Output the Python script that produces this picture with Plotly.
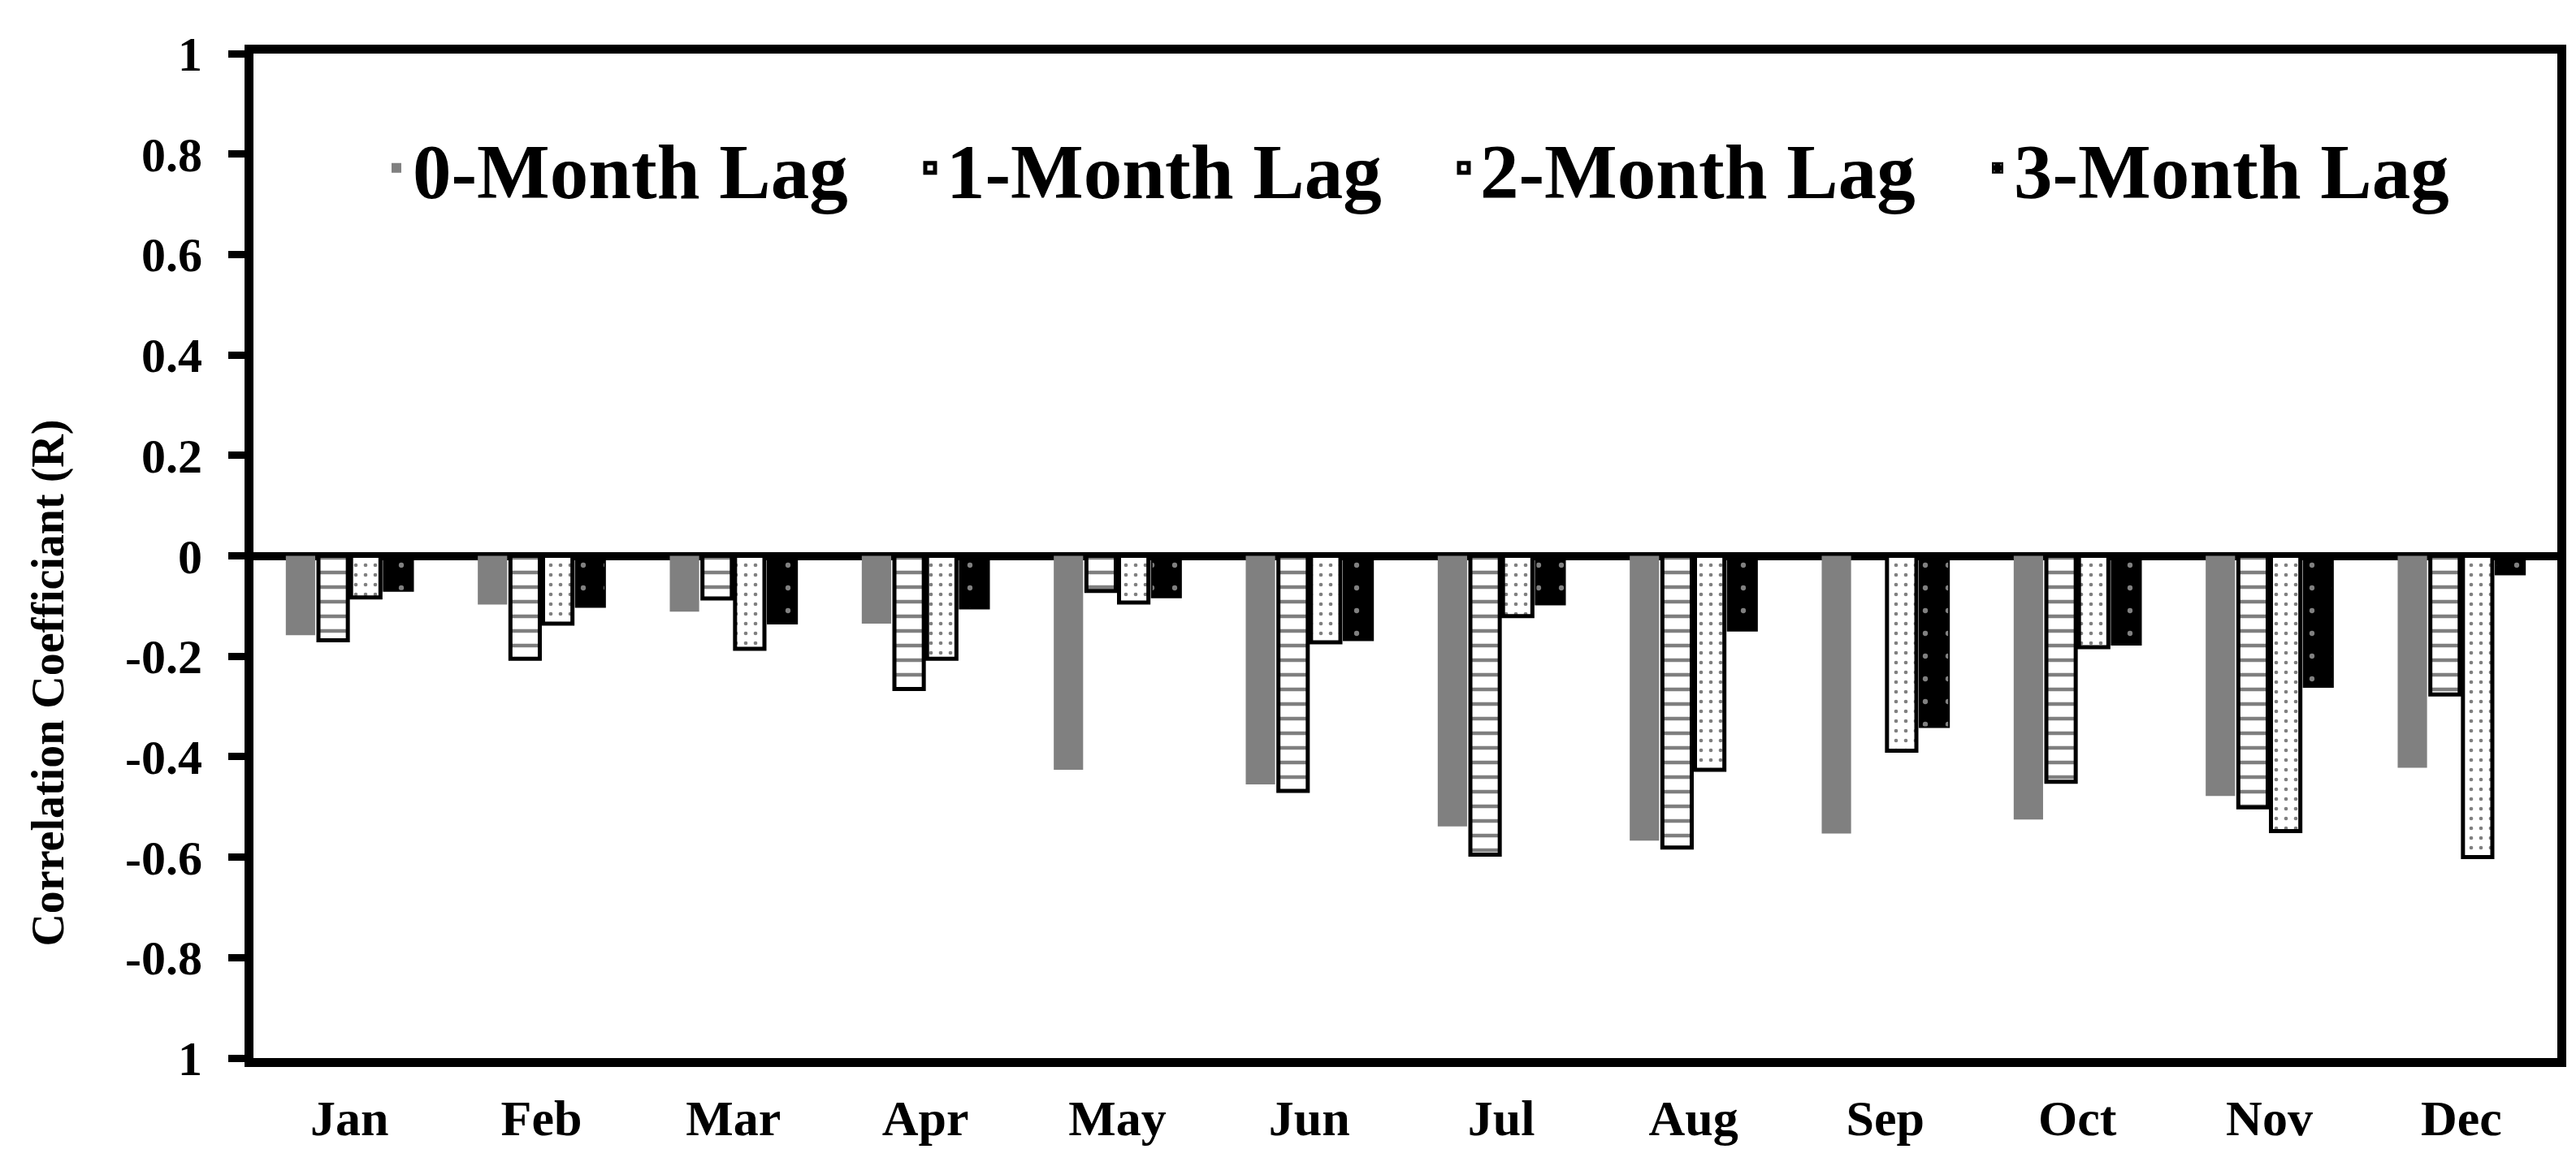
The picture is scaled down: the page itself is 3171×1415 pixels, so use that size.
import plotly.graph_objects as go

months = ["Jan", "Feb", "Mar", "Apr", "May", "Jun", "Jul", "Aug", "Sep", "Oct", "Nov", "Dec"]
lag0 = [-0.158, -0.097, -0.111, -0.135, -0.426, -0.455, -0.539, -0.567, -0.553, -0.525, -0.478, -0.422]
lag1 = [-0.168, -0.205, -0.085, -0.265, -0.070, -0.468, -0.595, -0.581, None, -0.450, -0.501, -0.276]
lag2 = [-0.083, -0.135, -0.185, -0.205, -0.093, -0.172, -0.120, -0.426, -0.388, -0.182, -0.548, -0.600]
lag3 = [-0.070, -0.102, -0.135, -0.105, -0.083, -0.168, -0.097, -0.149, -0.341, -0.177, -0.261, -0.037]

ytick_vals = [1, 0.8, 0.6, 0.4, 0.2, 0, -0.2, -0.4, -0.6, -0.8, -1]
ytick_text = ["1", "0.8", "0.6", "0.4", "0.2", "0", "-0.2", "-0.4", "-0.6", "-0.8", "1"]
y_title = "Correlation Coefficiant (R)"

FONT = "Liberation Serif, Times New Roman, serif"

fig = go.Figure()
fig.add_trace(go.Bar(x=months, y=lag0, name="0-Month Lag",
                     marker=dict(color="#808080", line=dict(width=0))))
fig.add_trace(go.Bar(x=months, y=lag1, name="1-Month Lag",
                     marker=dict(color="white", line=dict(color="black", width=5),
                                 pattern=dict(shape="-", fgcolor="black", bgcolor="white",
                                              size=18, solidity=0.25))))
fig.add_trace(go.Bar(x=months, y=lag2, name="2-Month Lag",
                     marker=dict(color="white", line=dict(color="black", width=5),
                                 pattern=dict(shape=".", fgcolor="black", bgcolor="white",
                                              size=12, solidity=0.12))))
fig.add_trace(go.Bar(x=months, y=lag3, name="3-Month Lag",
                     marker=dict(color="black", line=dict(color="black", width=2),
                                 pattern=dict(shape=".", fgcolor="white", bgcolor="black",
                                              size=28, solidity=0.04))))

fig.update_layout(
    width=3171, height=1415,
    paper_bgcolor="white", plot_bgcolor="white",
    barmode="group", bargap=0.32, bargroupgap=0.1,
    margin=dict(l=304, r=31, t=58, b=80),
    font=dict(family=FONT, color="black", size=60, weight="bold"),
    showlegend=True,
    legend=dict(orientation="h", x=0.055, y=0.886, xanchor="left", yanchor="middle",
                font=dict(family=FONT, size=95, color="black", weight="bold"),
                bgcolor="rgba(0,0,0,0)", itemwidth=30, traceorder="normal",
                entrywidth=612, entrywidthmode="pixels"),
    annotations=[dict(text=y_title, xref="paper", yref="paper",
                      x=-(304 - 52) / 2836, y=0.373, xanchor="center", yanchor="middle",
                      textangle=-90, showarrow=False,
                      font=dict(family=FONT, size=56, color="black", weight="bold"))],
)
fig.update_xaxes(
    range=[-0.5, 11.5], showline=True, linecolor="black", linewidth=11, mirror=True,
    ticks="", showgrid=False,
    tickfont=dict(family=FONT, size=62, color="black", weight="bold"),
    ticklabelstandoff=10,
)
fig.update_yaxes(
    range=[-1, 1], tickmode="array", tickvals=ytick_vals, ticktext=ytick_text,
    showline=True, linecolor="black", linewidth=11, mirror=True,
    ticks="outside", ticklen=20, tickwidth=9, tickcolor="black",
    showgrid=False, zeroline=True, zerolinecolor="black", zerolinewidth=10,
    tickfont=dict(family=FONT, size=60, color="black", weight="bold"),
    ticklabelstandoff=20,
)

fig.write_html("out.html")
